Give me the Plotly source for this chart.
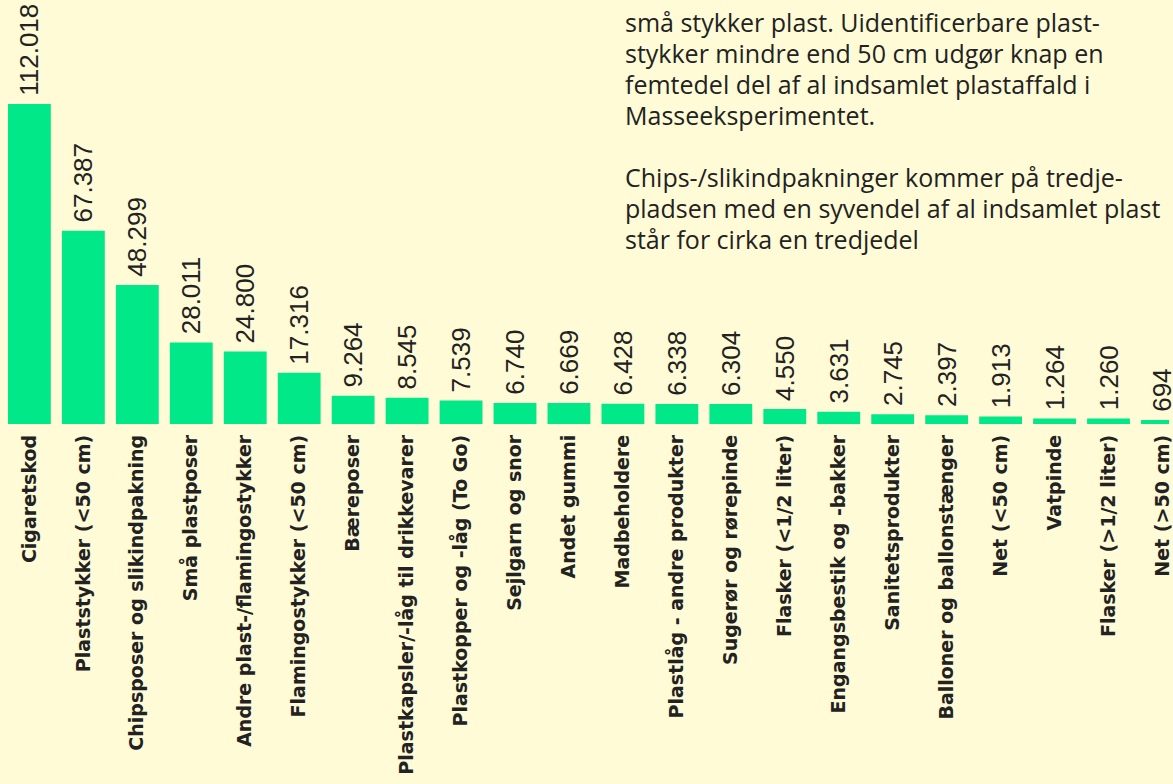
import plotly.graph_objects as go

categories = [
    "Cigaretskod", "Plaststykker (<50 cm)", "Chipsposer og slikindpakning",
    "Små plastposer", "Andre plast-/flamingostykker", "Flamingostykker (<50 cm)",
    "Bæreposer", "Plastkapsler/-låg til drikkevarer", "Plastkopper og -låg (To Go)",
    "Sejlgarn og snor", "Andet gummi", "Madbeholdere", "Plastlåg - andre produkter",
    "Sugerør og rørepinde", "Flasker (<1/2 liter)", "Engangsbestik og -bakker",
    "Sanitetsprodukter", "Balloner og ballonstænger", "Net (<50 cm)", "Vatpinde",
    "Flasker (>1/2 liter)", "Net (>50 cm)",
]
values = [112018, 67387, 48299, 28011, 24800, 17316, 9264, 8545, 7539, 6740,
          6669, 6428, 6338, 6304, 4550, 3631, 2745, 2397, 1913, 1264, 1260, 694]

text_lines = [
    "små stykker plast. Uidentificerbare plast-",
    "stykker mindre end 50 cm udgør knap en",
    "femtedel del af al indsamlet plastaffald i",
    "Masseeksperimentet.",
    "",
    "Chips-/slikindpakninger kommer på tredje-",
    "pladsen med en syvendel af al indsamlet plast",
    "står for cirka en tredjedel",
]

# Danish thousands separator; a leading thin space widens the gap to the bar
labels = ["\u2009" + f"{v:,}".replace(",", ".") for v in values]

BG = "#FFFBD6"
BAR = "#00E887"
INK = "#222222"
W, H = 1173, 784
PLOT_H = 424
BASE = -700

fig = go.Figure(
    go.Bar(
        x=categories,
        y=[v - BASE for v in values],
        base=BASE,
        marker=dict(color=BAR, line=dict(width=0)),
        text=labels,
        textposition="outside",
        textangle=-90,
        constraintext="none",
        textfont=dict(family="Liberation Sans", size=26, color=INK),
        cliponaxis=False,
        hoverinfo="skip",
    )
)

units_per_px = (values[0] - BASE) / 320.0
ymax = BASE + PLOT_H * units_per_px

for i, line in enumerate(text_lines):
    if not line:
        continue
    fig.add_annotation(
        text=line,
        xref="paper", yref="paper",
        x=625 / W, y=1 - (22 + i * 31) / PLOT_H,
        xanchor="left", yanchor="middle",
        showarrow=False,
        font=dict(family="Open Sans", size=25, color=INK),
    )

fig.update_layout(
    width=W, height=H,
    margin=dict(l=0, r=0, t=0, b=H - PLOT_H, pad=0),
    paper_bgcolor=BG, plot_bgcolor=BG,
    bargap=0.206,
    showlegend=False,
    xaxis=dict(
        type="category",
        range=[-0.545, 21.121],
        tickangle=-90,
        tickfont=dict(family="DejaVu Sans", size=19, color=INK, weight="bold"),
        showgrid=False, zeroline=False, showline=False,
        ticks="", ticklabelstandoff=6,
        fixedrange=True,
    ),
    yaxis=dict(
        range=[BASE, ymax],
        visible=False,
        fixedrange=True,
    ),
)

fig.write_html(
    "out.html",
    config={"displayModeBar": False},
    post_script="document.body.style.margin='0';document.body.style.overflow='hidden';",
)
